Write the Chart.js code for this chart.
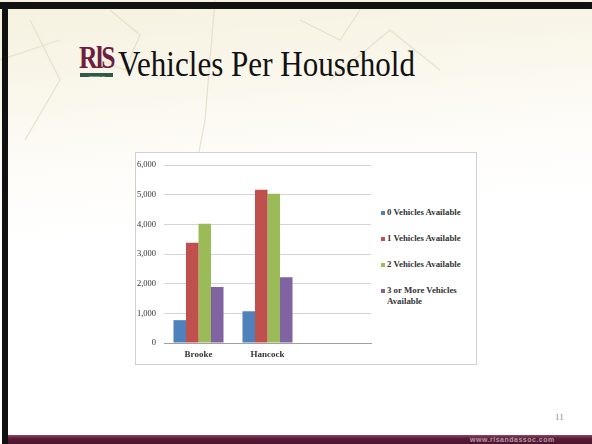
<!DOCTYPE html>
<html>
<head>
<meta charset="utf-8">
<script src="https://cdn.jsdelivr.net/npm/chart.js@4"></script>
<style>
  html,body{margin:0;padding:0;}
  body{width:592px;height:444px;position:relative;overflow:hidden;background:#fff;font-family:"Liberation Serif",serif;}
  #bg{position:absolute;left:0;top:0;width:592px;height:444px;
      background:linear-gradient(175deg,#f6f1df 0%,#f9f6ea 18%,#fdfcf8 35%,#ffffff 50%,#ffffff 100%);}
  #topbar{position:absolute;left:0;top:2px;width:592px;height:7px;background:#111;}
  #leftbar{position:absolute;left:2px;top:2px;width:6px;height:442px;background:#111;}
  #bottombar{position:absolute;left:8px;top:435px;width:584px;height:9px;background:linear-gradient(#8a4a66,#5a1a36 40%,#4a1430);}
  #url{position:absolute;left:470px;top:436px;font:bold 7px "Liberation Sans",sans-serif;color:#b89aa8;letter-spacing:0.5px;}
  #pnum{position:absolute;left:555px;top:412px;font:9px "Liberation Serif",serif;color:#8a8a8a;}
  #logo{position:absolute;left:79px;top:43px;font:bold 31px "Liberation Serif",serif;color:#6e1f40;letter-spacing:-2px;line-height:30px;white-space:nowrap;transform-origin:0 0;}
  #logobar{position:absolute;left:80px;top:73px;width:33px;height:4px;background:#2d5a4a;}
  #logosub{position:absolute;left:88px;top:74.5px;font:2.5px "Liberation Sans",sans-serif;color:#cfe0d8;line-height:3px;}
  #title{position:absolute;left:118px;top:44px;font:36px "Liberation Serif",serif;color:#111;white-space:nowrap;line-height:40px;transform-origin:0 0;}
  #box{position:absolute;left:135px;top:152px;width:340px;height:211px;border:1px solid #d0d0d0;background:#fff;}
  #wrap{position:absolute;left:135px;top:152px;width:240px;height:212px;}
  #legend{position:absolute;left:381px;top:207px;font:bold 8.8px "Liberation Serif",serif;color:#333;}
  .li{position:absolute;left:0;white-space:nowrap;line-height:11px;}
  .sw{position:absolute;left:0;top:4px;width:4px;height:4px;}
  .lt{position:absolute;left:6px;top:0;}
  svg{position:absolute;left:0;top:0;}
</style>
</head>
<body>
<div id="bg"></div>
<svg width="592" height="444">
  <g fill="none" stroke="#e6dfc8" stroke-width="1.2" opacity="0.9">
    <path d="M30 20 L60 80 L25 140"/>
    <path d="M110 10 L140 35 L125 70 L100 60"/>
    <path d="M215 0 L205 120 L190 200"/>
    <path d="M300 20 L340 40 L360 10"/>
    <path d="M330 80 L390 30 L440 70"/>
    <path d="M0 60 L60 40"/>
  </g>
</svg>
<div id="topbar"></div>
<div id="leftbar"></div>
<div id="bottombar"></div>
<div id="url">www.rlsandassoc.com</div>
<div id="pnum">11</div>
<div id="logo">RlS</div>
<div id="logobar"></div>
<div id="logosub">Associates, Inc.</div>
<div id="title">Vehicles Per Household</div>
<div id="box"></div>
<div id="wrap"><canvas id="c" width="240" height="212"></canvas></div>
<div id="legend"></div>
<script>
const categories = ["Brooke", "Hancock", ""];
const seriesNames = ["0 Vehicles Available", "1 Vehicles Available", "2 Vehicles Available", "3 or More Vehicles Available"];
const zeroVehicles = [770, 1070, null];
const oneVehicle = [3380, 5170, null];
const twoVehicles = [4020, 5030, null];
const threePlus = [1890, 2220, null];
const yTicks = [0, 1000, 2000, 3000, 4000, 5000, 6000];
const colors = ["#4f81bd", "#c0504d", "#9bbb59", "#8064a2"];

// title / logo width calibration
const t = document.getElementById('title');
t.style.transform = 'scaleX(' + (297 / t.getBoundingClientRect().width) + ')';
const lo = document.getElementById('logo');
lo.style.transform = 'scaleX(' + (35 / lo.getBoundingClientRect().width) + ')';

const series = [zeroVehicles, oneVehicle, twoVehicles, threePlus];
const FONT = '"Liberation Serif", serif';

new Chart(document.getElementById('c'), {
  type: 'bar',
  data: {
    labels: categories,
    datasets: series.map((d, i) => ({
      label: seriesNames[i],
      data: d,
      backgroundColor: colors[i],
      borderWidth: 0,
      categoryPercentage: 0.725,
      barPercentage: 1.0
    }))
  },
  options: {
    responsive: false,
    animation: false,
    devicePixelRatio: 1,
    layout: { padding: { top: 10, right: 4, bottom: 0, left: 0 } },
    plugins: { legend: { display: false }, tooltip: { enabled: false } },
    scales: {
      x: {
        grid: { display: false, drawTicks: false },
        border: { color: '#a0a0a0' },
        ticks: { color: '#333', font: { family: FONT, size: 9, weight: 'bold' }, padding: 6, maxRotation: 0 },
        afterFit: s => { s.height = 21; }
      },
      y: {
        min: 0, max: 6000,
        afterBuildTicks: s => { s.ticks = yTicks.map(v => ({ value: v })); },
        grid: { color: '#d4d4d4', drawTicks: false },
        border: { display: false },
        ticks: {
          color: '#333', font: { family: FONT, size: 8.5 }, padding: 8,
          callback: v => v === 0 ? '0' : v.toLocaleString('en-US')
        },
        afterFit: s => { s.width = 29; }
      }
    }
  }
});

// legend
const lg = document.getElementById('legend');
const tops = [0, 26, 52, 78];
seriesNames.map((n, i) => {
  const d = document.createElement('div');
  d.className = 'li';
  d.style.top = tops[i] + 'px';
  const text = i === 3 ? '3 or More Vehicles<br>Available' : n;
  d.innerHTML = '<span class="sw" style="background:' + colors[i] + '"></span><span class="lt">' + text + '</span>';
  lg.appendChild(d);
});
</script>
</body>
</html>
